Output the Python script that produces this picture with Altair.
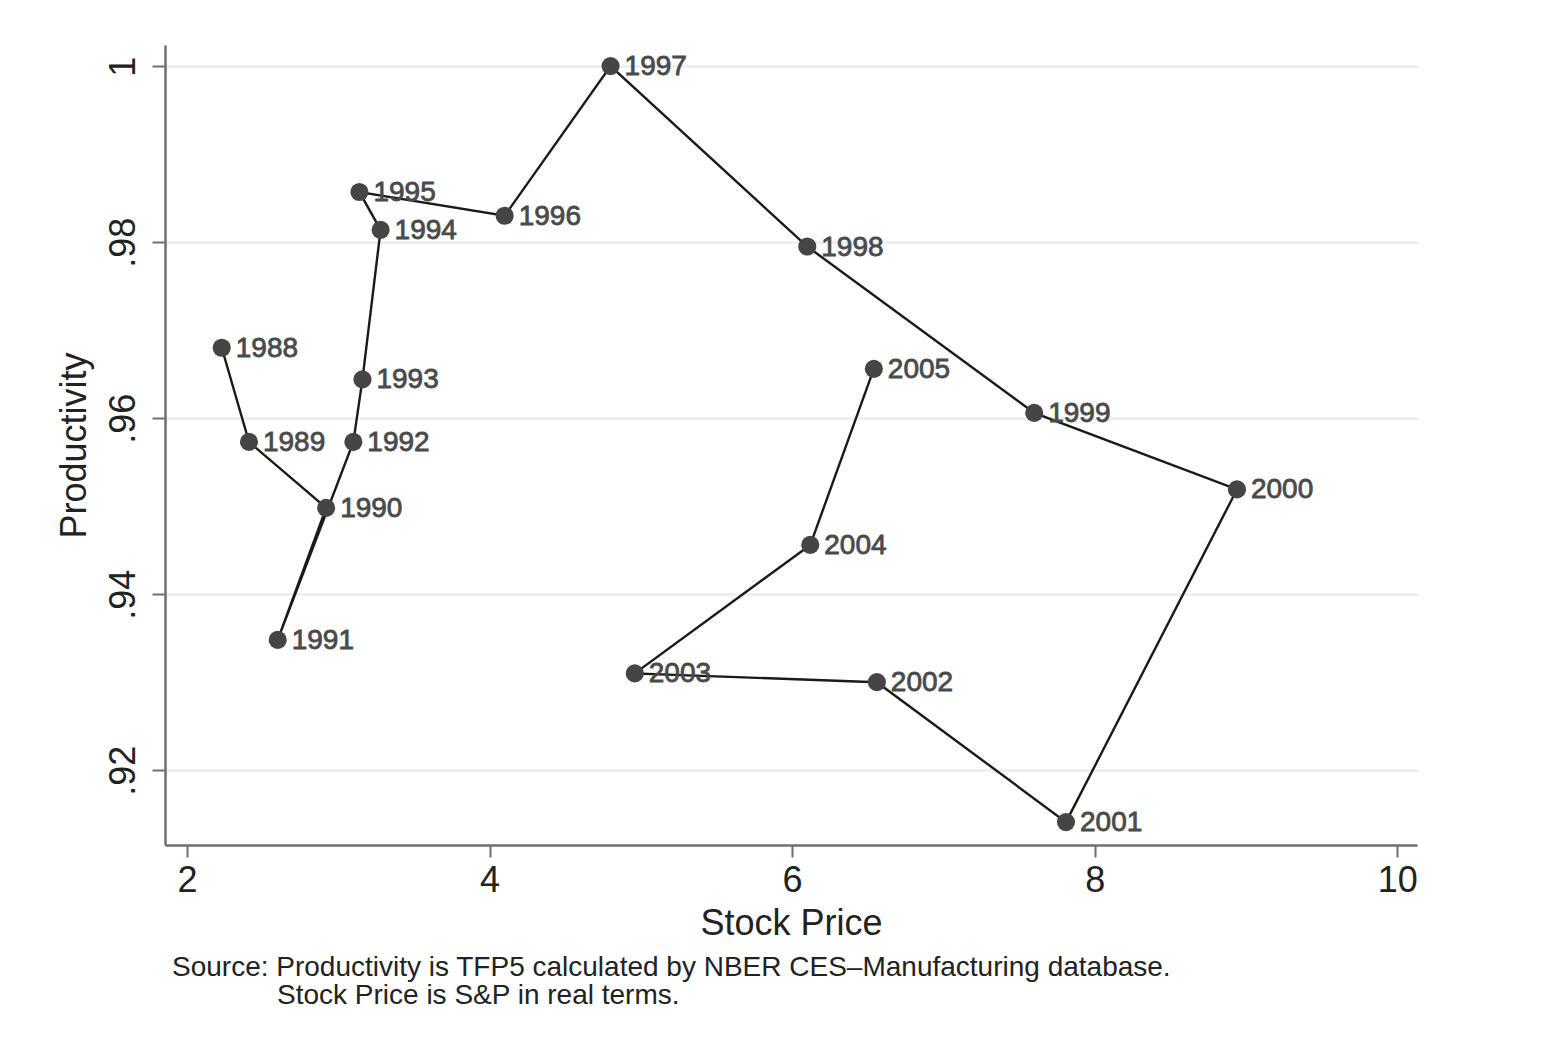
import altair as alt
import pandas as pd

years = list(range(1988, 2006))
stock_price = [2.23, 2.41, 2.92, 2.60, 3.10, 3.16, 3.28, 3.14, 4.10, 4.80,
               6.10, 7.60, 8.94, 7.81, 6.56, 4.96, 6.12, 6.54]
productivity = [0.9680, 0.9573, 0.9498, 0.9348, 0.9573, 0.9644, 0.9814, 0.9857,
                0.9830, 1.0000, 0.9795, 0.9606, 0.9519, 0.9141, 0.9300, 0.9310,
                0.9456, 0.9656]
x_ticks = [2, 4, 6, 8, 10]
y_ticks = [0.92, 0.94, 0.96, 0.98, 1.0]
note_line1 = ["Source: Productivity is TFP5 calculated by NBER CES\u2013Manufacturing database."]
note_line2 = ["Stock Price is S&P in real terms."]

df = pd.DataFrame({"year": years, "stock": stock_price, "prod": productivity})
df["label"] = df["year"].astype(str)

FONT = "Liberation Sans"

x_enc = alt.X("stock:Q", scale=alt.Scale(domain=[1.855, 10.13], nice=False, zero=False),
              axis=alt.Axis(title="Stock Price", values=x_ticks, grid=False, format="d",
                            labelFontSize=36, titleFontSize=36, labelFont=FONT, titleFont=FONT,
                            labelColor="#222", titleColor="#222", titleFontWeight="normal",
                            domainColor="#6f6f6f", domainWidth=2.5, tickColor="#6f6f6f",
                            tickWidth=2, tickSize=12, labelPadding=6, titlePadding=8,
                            labelFlush=False))
y_enc = alt.Y("prod:Q", scale=alt.Scale(domain=[0.9115, 1.0024], nice=False, zero=False),
              axis=alt.Axis(title="Productivity", values=y_ticks, grid=True,
                            gridColor="#e6eff1", gridWidth=2.5,
                            labelExpr="datum.value == 1 ? '1' : '.' + substring(format(datum.value, '.2f'), 2)",
                            labelAngle=270, labelFontSize=36, titleFontSize=36,
                            labelFont=FONT, titleFont=FONT, labelColor="#222", titleColor="#222",
                            titleFontWeight="normal", domainColor="#6f6f6f", domainWidth=2.5,
                            tickColor="#6f6f6f", tickWidth=2, tickSize=13, labelPadding=10,
                            titlePadding=12, labelFlush=False))

base = alt.Chart(df)
line = base.mark_line(color="#1a1a1a", strokeWidth=2.4).encode(x=x_enc, y=y_enc, order="year:O")
pts = base.mark_circle(color="#454545", opacity=1, size=330).encode(x="stock:Q", y="prod:Q")
txt = base.mark_text(align="left", baseline="middle", dx=14, dy=1, fontSize=28, font=FONT,
                     color="#4a4a4a", stroke="#4a4a4a", strokeWidth=0.8).encode(
    x="stock:Q", y="prod:Q", text="label:N")

note1 = alt.Chart(pd.DataFrame({"line": note_line1})).mark_text(
    align="left", baseline="middle", fontSize=28, font=FONT, color="#222").encode(
    text="line:N", x=alt.value(7), y=alt.value(923))
note2 = alt.Chart(pd.DataFrame({"line": note_line2})).mark_text(
    align="left", baseline="middle", fontSize=28, font=FONT, color="#222").encode(
    text="line:N", x=alt.value(112), y=alt.value(951))

chart = alt.layer(line, pts, txt, note1, note2).properties(
    width=1252, height=800,
    autosize=alt.AutoSizeParams(type="none"),
    padding={"left": 157, "top": 37, "right": 120, "bottom": 190},
    background="white",
).configure_view(stroke=None)

chart.save("out.html", embed_options={"renderer": "svg", "actions": False})
